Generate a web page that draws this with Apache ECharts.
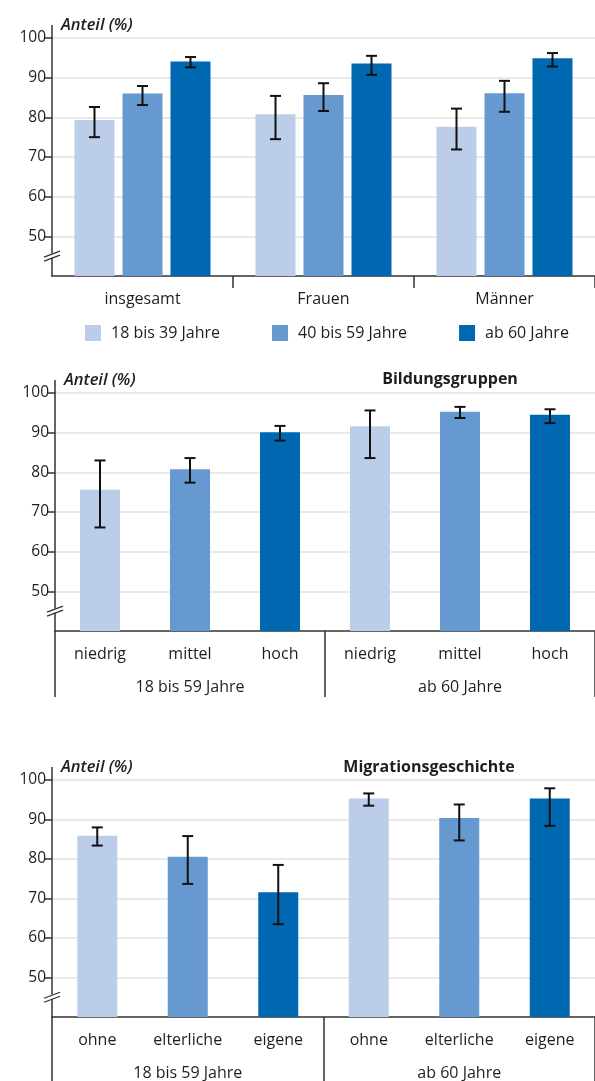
<!DOCTYPE html>
<html>
<head>
<meta charset="utf-8">
<script src="https://cdn.jsdelivr.net/npm/echarts@6/dist/echarts.min.js"></script>
<style>
html, body { margin: 0; padding: 0; background: #fff; }
#main { width: 595px; height: 1081px; }
</style>
</head>
<body>
<div id="main"></div>
<script>
// --- data ---
const yTicks = [50, 60, 70, 80, 90, 100];
const ageGroups = ['18 bis 39 Jahre', '40 bis 59 Jahre', 'ab 60 Jahre'];

const sexCats = ['insgesamt', 'Frauen', 'Männer'];
// one row per age group, one value per category
const sexValues = [[79.3, 80.8, 77.6], [86.0, 85.6, 86.1], [94.1, 93.6, 94.9]];
const sexLow = [[75.0, 74.5, 71.9], [83.1, 81.6, 81.4], [92.6, 90.7, 92.8]];
const sexHigh = [[82.6, 85.4, 82.2], [87.9, 88.6, 89.2], [95.2, 95.5, 96.2]];

const groupCats = ['18 bis 59 Jahre', 'ab 60 Jahre'];

const eduCats = ['niedrig', 'mittel', 'hoch', 'niedrig', 'mittel', 'hoch'];
const eduValues = [75.6, 80.8, 90.1, 91.6, 95.3, 94.5];
const eduLow = [66.1, 77.4, 88.0, 83.6, 93.7, 92.4];
const eduHigh = [83.0, 83.6, 91.7, 95.6, 96.5, 95.9];

const migCats = ['ohne', 'elterliche', 'eigene', 'ohne', 'elterliche', 'eigene'];
const migValues = [85.9, 80.6, 71.6, 95.3, 90.4, 95.3];
const migLow = [83.4, 73.7, 63.5, 93.5, 84.7, 88.4];
const migHigh = [88.0, 85.8, 78.5, 96.6, 93.8, 97.9];

// --- style ---
const colors = ['#bccde9', '#6699cf', '#0067b1'];
const FONT = 'Open Sans';
const TXT = '#1e1e1e';
const AXIS = '#333';
const BAR_W = 40;
const BAR_STEP = 48;
const grids = [
    { left: 52, top: 38, width: 552, height: 238 },
    { left: 55, top: 393, width: 549, height: 238 },
    { left: 52, top: 780, width: 552, height: 238 }
];

const chart = echarts.init(document.getElementById('main'));

const errorBars = (offset) => (params, api) => {
    const x = api.value(0);
    const lo = api.coord([x, api.value(1)]);
    const hi = api.coord([x, api.value(2)]);
    const cx = lo[0] + offset;
    const hw = 5.5;
    const st = { stroke: '#111', lineWidth: 2 };
    return {
        type: 'group',
        children: [
            { type: 'line', shape: { x1: cx, y1: hi[1], x2: cx, y2: lo[1] }, style: st },
            { type: 'line', shape: { x1: cx - hw, y1: hi[1], x2: cx + hw, y2: hi[1] }, style: st },
            { type: 'line', shape: { x1: cx - hw, y1: lo[1], x2: cx + hw, y2: lo[1] }, style: st }
        ]
    };
};

const yAxisOf = (gi) => ({
    type: 'value',
    gridIndex: gi,
    min: 40,
    max: 100,
    interval: 10,
    name: 'Anteil (%)',
    nameLocation: 'end',
    nameGap: 4,
    nameTextStyle: {
        fontFamily: FONT, fontStyle: 'italic', fontWeight: 600, fontSize: 16.5,
        color: TXT, align: 'left', padding: [0, 0, 0, 9]
    },
    axisLine: { show: true, lineStyle: { color: AXIS, width: 1.5 } },
    axisTick: { show: true, length: 8, customValues: yTicks, lineStyle: { color: AXIS, width: 1.5 } },
    axisLabel: { customValues: yTicks, fontFamily: FONT, fontSize: 15.5, color: TXT, margin: 6 },
    splitLine: { lineStyle: { color: '#e2e2e2', width: 1.5 } }
});

const mainX = (gi, cats, tickShow) => ({
    type: 'category',
    gridIndex: gi,
    data: cats,
    axisLine: { lineStyle: { color: AXIS, width: 1.5 } },
    axisTick: { show: tickShow, length: 12, interval: (i) => i > 0, lineStyle: { color: AXIS, width: 1.5 } },
    axisLabel: { fontFamily: FONT, fontSize: 16, color: TXT, margin: 15, interval: 0 }
});

const groupX = (gi, len) => ({
    type: 'category',
    gridIndex: gi,
    position: 'bottom',
    data: groupCats,
    axisLine: { show: false },
    axisTick: { show: true, length: len, lineStyle: { color: AXIS, width: 1.5 } },
    axisLabel: { fontFamily: FONT, fontSize: 16, color: TXT, margin: 48 },
    splitLine: { show: false }
});

const series = [];
ageGroups.forEach((name, k) => {
    series.push({
        name: name,
        type: 'bar',
        xAxisIndex: 0,
        yAxisIndex: 0,
        barWidth: BAR_W,
        barGap: '20%',
        itemStyle: { color: colors[k] },
        data: sexValues[k]
    });
});
ageGroups.forEach((name, k) => {
    series.push({
        type: 'custom',
        xAxisIndex: 0,
        yAxisIndex: 0,
        z: 5,
        renderItem: errorBars((k - 1) * BAR_STEP),
        encode: { x: 0, y: [1, 2] },
        data: sexCats.map((c, i) => [i, sexLow[k][i], sexHigh[k][i]])
    });
});

const panel = (xi, yi, vals, lows, highs) => {
    series.push({
        type: 'bar',
        xAxisIndex: xi,
        yAxisIndex: yi,
        barWidth: BAR_W,
        data: vals.map((v, i) => ({ value: v, itemStyle: { color: colors[i % 3] } }))
    });
    series.push({
        type: 'custom',
        xAxisIndex: xi,
        yAxisIndex: yi,
        z: 5,
        renderItem: errorBars(0),
        encode: { x: 0, y: [1, 2] },
        data: vals.map((v, i) => [i, lows[i], highs[i]])
    });
};
panel(1, 1, eduValues, eduLow, eduHigh);
panel(3, 2, migValues, migLow, migHigh);

const option = {
    backgroundColor: '#fff',
    animation: false,
    title: [
        { text: 'Bildungsgruppen', left: 445, top: 366, textAlign: 'center',
          textStyle: { fontFamily: FONT, fontWeight: 'bold', fontSize: 16, color: TXT } },
        { text: 'Migrationsgeschichte', left: 424, top: 754, textAlign: 'center',
          textStyle: { fontFamily: FONT, fontWeight: 'bold', fontSize: 16, color: TXT } }
    ],
    legend: {
        data: ageGroups,
        left: 80,
        top: 320,
        icon: 'rect',
        itemWidth: 16,
        itemHeight: 16,
        itemGap: 52,
        textStyle: { fontFamily: FONT, fontSize: 16, color: TXT, padding: [0, 0, 0, 5] }
    },
    grid: grids,
    xAxis: [
        mainX(0, sexCats, true),
        mainX(1, eduCats, false),
        groupX(1, 66),
        mainX(2, migCats, false),
        groupX(2, 70)
    ],
    yAxis: [yAxisOf(0), yAxisOf(1), yAxisOf(2)],
    series: series
};
chart.setOption(option);

// axis decorations: overshoot of the y-axis above 100 and the "//" break mark
const deco = [];
grids.forEach((g, i) => {
    const ax = g.left;
    const yTop = chart.convertToPixel({ yAxisIndex: i }, 100);
    const yBreak = chart.convertToPixel({ yAxisIndex: i }, 45);
    deco.push({ type: 'line', shape: { x1: ax, y1: yTop, x2: ax, y2: yTop - 13 },
        style: { stroke: AXIS, lineWidth: 1.5 } });
    deco.push({ type: 'line', shape: { x1: ax - 7, y1: yBreak + 2, x2: ax + 7, y2: yBreak - 3 },
        style: { stroke: '#fff', lineWidth: 4 }, z: 10 });
    [0, 4].forEach((d) => {
        deco.push({ type: 'line', shape: { x1: ax - 8, y1: yBreak + 3 - d + 2, x2: ax + 8, y2: yBreak - 3 - d + 2 },
            style: { stroke: AXIS, lineWidth: 1.3 }, z: 11 });
    });
});
chart.setOption({ graphic: deco });
</script>
</body>
</html>
